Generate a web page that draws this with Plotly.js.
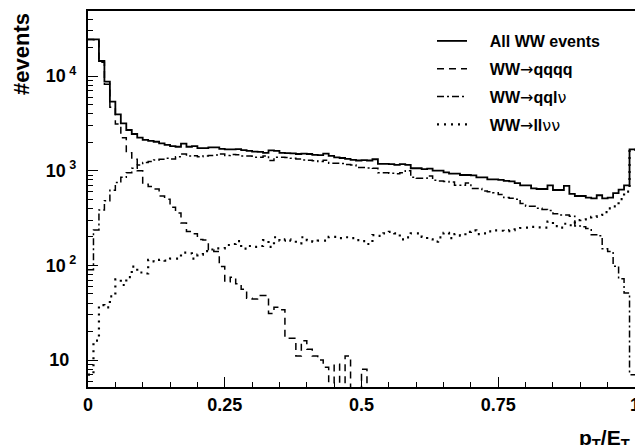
<!DOCTYPE html>
<html><head><meta charset="utf-8">
<script src="https://cdn.plot.ly/plotly-3.0.1.min.js"></script>
<style>html,body{margin:0;padding:0;background:#fff}#chart{width:635px;height:445px}</style>
</head><body><div id="chart"></div>
<script>
// Histogram binning: 100 bins from 0 to 1 in pT/ET
const nBins = 100, xLow = 0, xHigh = 1;

const allWW = [24400,24400,14400,8700,5350,3940,3160,2690,2440,2230,
  2110,2060,2020,1940,1870,1820,1790,1930,1790,1820,
  1730,1730,1760,1760,1700,1680,1680,1690,1650,1620,
  1590,1580,1540,1640,1620,1540,1530,1520,1500,1510,
  1500,1470,1460,1510,1430,1380,1360,1330,1300,1280,
  1290,1280,1320,1180,1180,1170,1150,1170,1150,1060,
  1060,1040,1050,1000,1000,960,930,930,900,900,
  890,850,850,810,810,800,780,770,740,700,
  700,650,640,640,700,625,625,690,570,540,
  540,520,510,550,510,520,580,630,700,1680];

const qqqq = [24300,24150,13980,8180,4680,3120,2230,1550,1320,1000,
  720,680,640,540,500,410,357,280,228,215,
  188,185,145,140,97,67,75,64,56,45,
  44,48,48,31,36,34,17,17,11,16,
  13,11,10,8.4,0,9,0,11,0,0,
  8,0,0,0,0,0,0,0,0,0,
  0,0,0,0,0,0,0,0,0,0,
  0,0,0,0,0,0,0,0,0,0,
  0,0,0,0,0,0,0,0,0,0,
  0,0,0,0,0,0,0,0,0,0];

const qqlnu = [90,236,385,480,620,750,850,950,1060,1150,
  1220,1250,1300,1320,1350,1330,1400,1500,1430,1440,
  1400,1430,1450,1460,1500,1450,1480,1470,1430,1430,
  1390,1390,1430,1280,1390,1390,1380,1350,1330,1300,
  1290,1270,1250,1290,1200,1200,1190,1160,1150,1080,
  1080,1070,1060,950,950,940,930,950,1000,850,
  830,830,880,790,780,770,760,700,700,740,
  650,650,610,600,585,560,520,510,500,450,
  420,420,400,390,380,350,340,340,330,260,
  255,245,210,205,150,140,98,72,51,7];

const llnunu = [7,16,38,36,47,71,62,75,97,84,
  82,114,110,114,112,118,118,136,134,118,
  130,141,147,151,151,164,168,180,150,160,
  157,160,185,157,198,182,188,182,171,198,
  185,178,182,182,200,200,194,198,194,185,
  180,168,209,205,218,226,218,188,197,218,
  218,200,188,178,197,221,194,214,206,226,
  234,214,218,228,234,232,230,236,240,248,
  250,255,252,250,290,260,250,275,265,300,
  305,320,325,340,365,400,420,500,600,1660];

const SYM = "font-weight:normal;font-family:DejaVu Sans";
const seriesNames = ["All WW events",
  "WW<span style='" + SYM + "'>\u2192</span>qqqq",
  "WW<span style='" + SYM + "'>\u2192</span>qql<span style='" + SYM + "'>\u03bd</span>",
  "WW<span style='" + SYM + "'>\u2192</span>ll<span style='" + SYM + "'>\u03bd\u03bd</span>"];

const yTickVals = [10, 100, 1000, 10000];
const yTickText = ["10<sup>\u00a0\u00a0</sup>", "10<sup>\u00a02</sup>", "10<sup>\u00a03</sup>", "10<sup>\u00a04</sup>"];
const xTickVals = [0, 0.25, 0.5, 0.75, 1];
const xTickText = ["0", "0.25", "0.5", "0.75", "1"];

// empty bins cannot sit on a log axis: draw them below the visible range
const zeroFloor = 1;
const edges = [];
for (let i = 0; i <= nBins; i++) edges.push(xLow + (xHigh - xLow) * i / nBins);
function stepY(v) { const y = v.map(c => c > 0 ? c : zeroFloor); y.push(y[y.length - 1]); return y; }

const xMinor = [];
for (let i = 1; i < 20; i++) if (i % 5 !== 0) xMinor.push(i * 0.05);
const yMinor = [];
for (let d = 0; d < 5; d++) for (let k = 2; k <= 9; k++) yMinor.push(k * Math.pow(10, d));

const FONT = "Liberation Sans, Arial, Helvetica, sans-serif";
const pad = "\u00a0\u00a0\u00a0\u00a0";
const styles = [
  {dash: "solid", width: 1.8},
  {dash: "7px,5px", width: 1.5},
  {dash: "7px,3px,2px,3px", width: 1.5},
  {dash: "2px,5px", width: 2.2}
];
const data = [allWW, qqqq, qqlnu, llnunu].map((v, i) => ({
  type: "scatter", mode: "lines", x: edges, y: stepY(v),
  name: pad + seriesNames[i], legendgroup: "g" + i,
  line: {shape: "hv", color: "#000", width: styles[i].width, dash: styles[i].dash},
  hoverinfo: "skip"
}));

const layout = {
  width: 635, height: 445,
  margin: {l: 88, r: 0, t: 11, b: 58},
  paper_bgcolor: "#fff", plot_bgcolor: "#fff",
  font: {family: FONT, size: 18, color: "#000", weight: "bold"},
  showlegend: true,
  legend: {x: (432 - 88) / 547, xanchor: "left", y: (387 - 24) / 376, yanchor: "top",
    bgcolor: "rgba(0,0,0,0)", borderwidth: 0, tracegroupgap: 4,
    font: {family: FONT, size: 16, color: "#000", weight: "bold"}},
  xaxis: {range: [xLow, xHigh], tickmode: "array", tickvals: xTickVals, ticktext: xTickText,
    ticks: "inside", ticklen: 10, tickwidth: 1, tickcolor: "#000",
    minor: {tickmode: "array", tickvals: xMinor, ticks: "inside", ticklen: 5, tickwidth: 1, tickcolor: "#000"},
    showline: true, linewidth: 2, linecolor: "#000", mirror: true,
    showgrid: false, zeroline: false, ticklabeloverflow: "allow",
    tickfont: {family: FONT, size: 18, color: "#000", weight: "bold"}},
  yaxis: {type: "log", range: [0.7148, 4.6866], tickmode: "array", tickvals: yTickVals, ticktext: yTickText,
    ticks: "inside", ticklen: 10, tickwidth: 1, tickcolor: "#000",
    minor: {tickmode: "array", tickvals: yMinor, ticks: "inside", ticklen: 5, tickwidth: 1, tickcolor: "#000"},
    showline: true, linewidth: 2, linecolor: "#000", mirror: true,
    showgrid: false, zeroline: false, ticklabelstandoff: 6,
    tickfont: {family: FONT, size: 18, color: "#000", weight: "bold"}},
  annotations: [
    {text: "#events", xref: "paper", yref: "paper", x: (21 - 88) / 547, y: (387 - 54) / 376,
     xanchor: "center", yanchor: "middle", textangle: -90, showarrow: false,
     font: {family: FONT, size: 22, color: "#000", weight: "bold"}},
    {text: "p<sub>T</sub>/E<sub>T</sub>", xref: "paper", yref: "paper", x: (577 - 88) / 547, y: (387 - 424) / 376,
     xanchor: "left", yanchor: "top", showarrow: false,
     font: {family: FONT, size: 21, color: "#000", weight: "bold"}}
  ]
};

Plotly.newPlot("chart", data, layout, {staticPlot: true, displayModeBar: false});
</script></body></html>
